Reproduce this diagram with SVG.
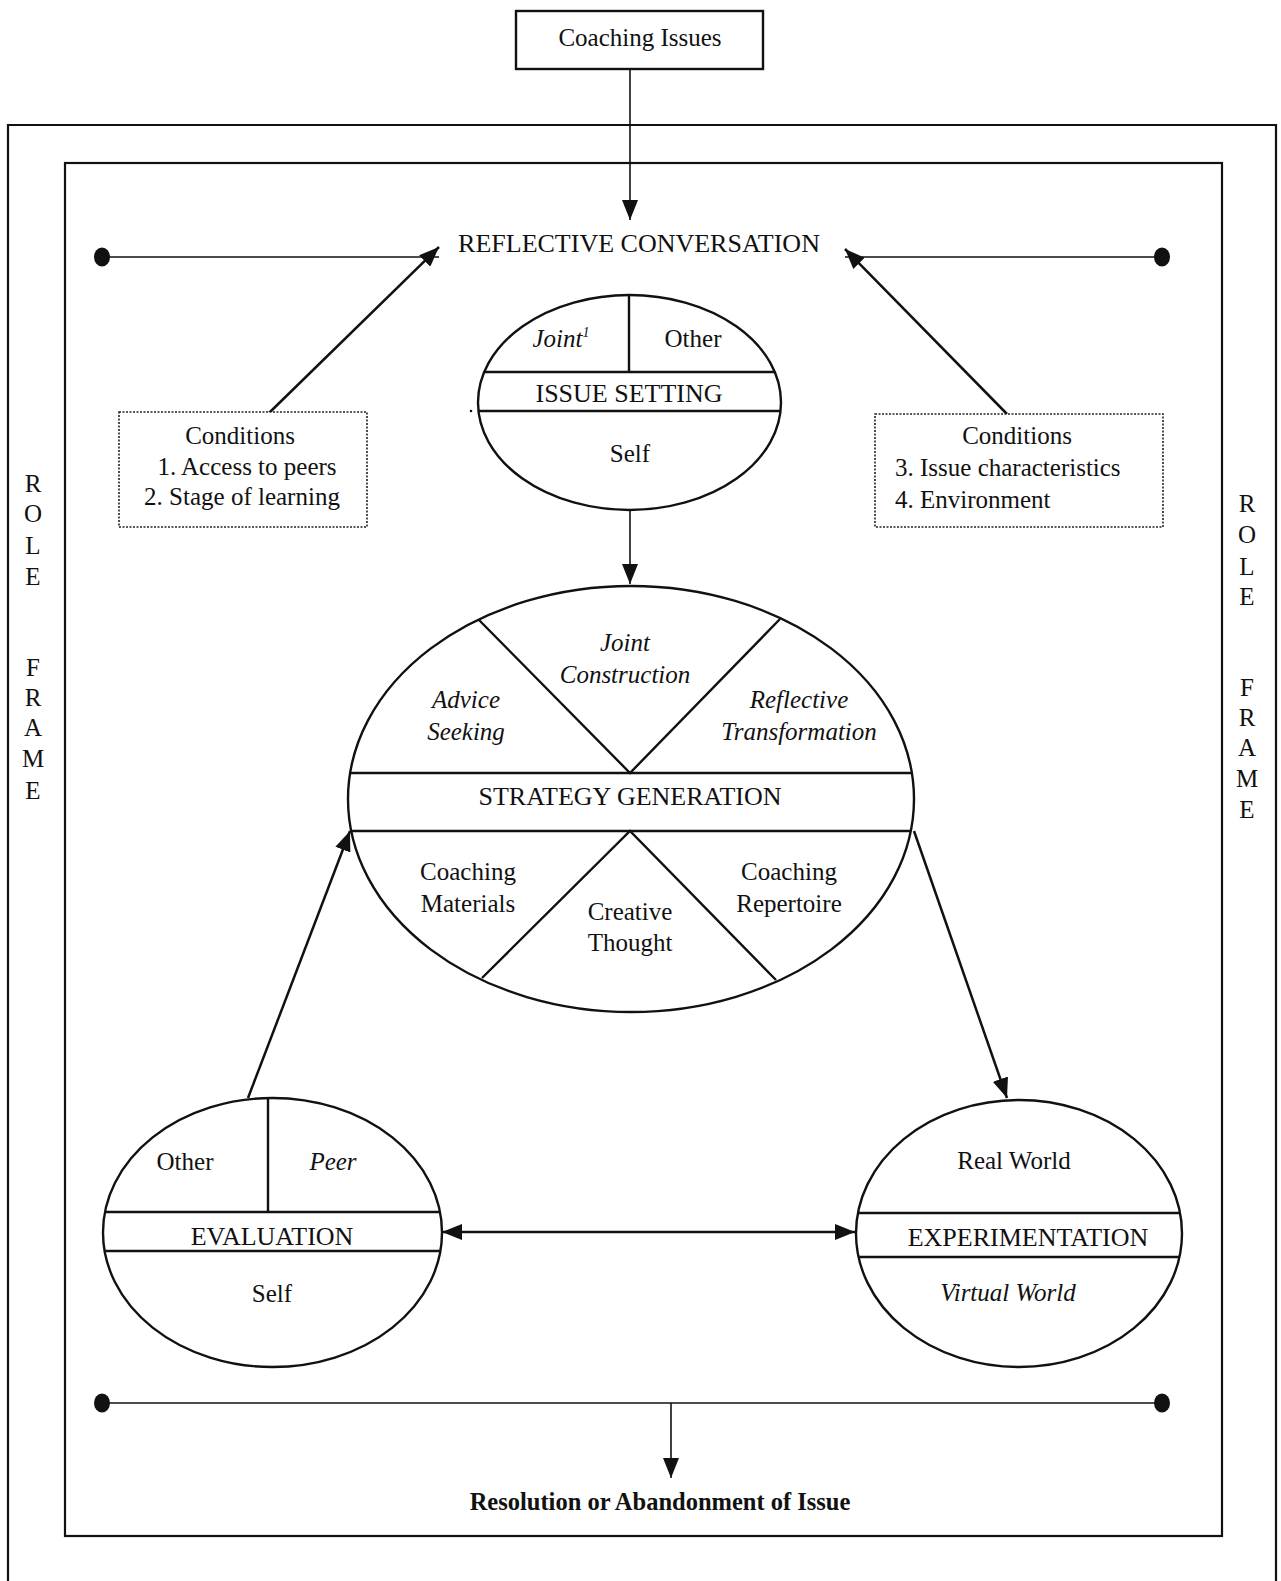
<svg xmlns="http://www.w3.org/2000/svg" width="1281" height="1581" viewBox="0 0 1281 1581">
<style>
  .t { font-family: "Liberation Serif", "Times New Roman", serif; font-size: 25px; fill: #111; }
  .c { text-anchor: middle; }
  .i { font-style: italic; }
  .cap { font-size: 26px; }
  .b { font-weight: bold; font-size: 24.5px; }
  .frame { fill: none; stroke: #111; stroke-width: 2.2; }
  .shape { fill: #fff; stroke: #111; stroke-width: 2.4; }
  .div { stroke: #111; stroke-width: 2.4; fill: none; }
  .cond { fill: #fff; stroke: #222; stroke-width: 1.6; stroke-dasharray: 2 1.5; }
  .thin { stroke: #111; stroke-width: 1.6; fill: none; }
  .arr { stroke: #111; stroke-width: 2.5; fill: none; }
  .dot { fill: #111; }
</style>
<defs>
  <marker id="ah" viewBox="0 0 20 16" refX="20" refY="8" markerWidth="20" markerHeight="16" markerUnits="userSpaceOnUse" orient="auto-start-reverse">
    <path d="M0,0 L20,8 L0,16 z" fill="#111"/>
  </marker>
  <clipPath id="clipIS"><ellipse cx="629.5" cy="402.5" rx="151.5" ry="107.5"/></clipPath>
  <clipPath id="clipSG"><ellipse cx="631" cy="799" rx="283" ry="213"/></clipPath>
  <clipPath id="clipEV"><ellipse cx="272.5" cy="1232.5" rx="169.5" ry="134.5"/></clipPath>
  <clipPath id="clipEX"><ellipse cx="1019" cy="1233.5" rx="163" ry="133.5"/></clipPath>
</defs>
<rect width="1281" height="1581" fill="#fff"/>

<g id="frames">
  <path class="frame" d="M8,1581 V125 H1276 V1581"/>
  <rect class="frame" x="65" y="163" width="1157" height="1373"/>
</g>

<g id="role-frame-left">
  <text class="t c" x="33" y="492">R</text>
  <text class="t c" x="33" y="522">O</text>
  <text class="t c" x="33" y="554">L</text>
  <text class="t c" x="33" y="585">E</text>
  <text class="t c" x="33" y="676">F</text>
  <text class="t c" x="33" y="706">R</text>
  <text class="t c" x="33" y="736">A</text>
  <text class="t c" x="33" y="767">M</text>
  <text class="t c" x="33" y="799">E</text>
</g>
<g id="role-frame-right">
  <text class="t c" x="1247" y="512">R</text>
  <text class="t c" x="1247" y="543">O</text>
  <text class="t c" x="1247" y="575">L</text>
  <text class="t c" x="1247" y="605">E</text>
  <text class="t c" x="1247" y="696">F</text>
  <text class="t c" x="1247" y="726">R</text>
  <text class="t c" x="1247" y="756">A</text>
  <text class="t c" x="1247" y="787">M</text>
  <text class="t c" x="1247" y="818">E</text>
</g>

<g id="connectors">
  <line class="thin" x1="630" y1="70" x2="630" y2="220" marker-end="url(#ah)"/>
  <line class="thin" x1="102" y1="257" x2="439" y2="257"/>
  <line class="thin" x1="845" y1="257" x2="1162" y2="257"/>
  <ellipse class="dot" cx="102" cy="257" rx="8" ry="9.5"/>
  <ellipse class="dot" cx="1162" cy="257" rx="8" ry="9.5"/>
  <line class="arr" x1="269" y1="413" x2="439" y2="247" marker-end="url(#ah)"/>
  <line class="arr" x1="1007" y1="414" x2="845" y2="249" marker-end="url(#ah)"/>
  <line class="thin" x1="630" y1="510" x2="630" y2="584" marker-end="url(#ah)"/>
  <line class="arr" x1="248" y1="1098" x2="350" y2="831" marker-end="url(#ah)"/>
  <line class="arr" x1="914" y1="831" x2="1007" y2="1098" marker-end="url(#ah)"/>
  <line class="arr" x1="442" y1="1232" x2="855" y2="1232" marker-start="url(#ah)" marker-end="url(#ah)"/>
  <line class="thin" x1="102" y1="1403" x2="1162" y2="1403"/>
  <ellipse class="dot" cx="102" cy="1403" rx="8" ry="9.5"/>
  <ellipse class="dot" cx="1162" cy="1403" rx="8" ry="9.5"/>
  <line class="thin" x1="671" y1="1403" x2="671" y2="1478" marker-end="url(#ah)"/>
</g>

<g id="coaching-issues">
  <rect class="shape" x="516" y="11" width="247" height="58"/>
  <text class="t c" x="640" y="46">Coaching Issues</text>
</g>

<g id="reflective-conversation">
  <text class="t c cap" x="639" y="252">REFLECTIVE CONVERSATION</text>
</g>

<g id="conditions-left">
  <rect class="cond" x="119" y="412" width="248" height="115"/>
  <text class="t c" x="240" y="444">Conditions</text>
  <text class="t c" x="247" y="475">1. Access to peers</text>
  <text class="t c" x="242" y="505">2. Stage of learning</text>
</g>

<g id="conditions-right">
  <rect class="cond" x="875" y="414" width="288" height="113"/>
  <text class="t c" x="1017" y="444">Conditions</text>
  <text class="t" x="895" y="476">3. Issue characteristics</text>
  <text class="t" x="895" y="508">4. Environment</text>
</g>

<g id="issue-setting">
  <ellipse class="shape" cx="629.5" cy="402.5" rx="151.5" ry="107.5"/>
  <g clip-path="url(#clipIS)">
    <line class="div" x1="470" y1="372" x2="790" y2="372"/>
    <line class="div" x1="470" y1="411" x2="790" y2="411"/>
    <line class="div" x1="629" y1="290" x2="629" y2="372"/>
  </g>
  <text class="t c i" x="561" y="347">Joint<tspan font-size="14" dy="-10">1</tspan></text>
  <text class="t c" x="693" y="347">Other</text>
  <text class="t c cap" x="629" y="402">ISSUE SETTING</text>
  <text class="t c" x="630" y="462">Self</text>
  <circle cx="471" cy="411" r="1.3" fill="#111"/>
</g>

<g id="strategy-generation">
  <ellipse class="shape" cx="631" cy="799" rx="283" ry="213"/>
  <g clip-path="url(#clipSG)">
    <line class="div" x1="340" y1="773" x2="920" y2="773"/>
    <line class="div" x1="340" y1="831" x2="920" y2="831"/>
    <polyline class="div" points="479,620 630,773 780,619"/>
    <polyline class="div" points="482,978 630,831 776,980"/>
  </g>
  <text class="t c i" x="625" y="651">Joint</text>
  <text class="t c i" x="625" y="683">Construction</text>
  <text class="t c i" x="466" y="708">Advice</text>
  <text class="t c i" x="466" y="740">Seeking</text>
  <text class="t c i" x="799" y="708">Reflective</text>
  <text class="t c i" x="799" y="740">Transformation</text>
  <text class="t c cap" x="630" y="805">STRATEGY GENERATION</text>
  <text class="t c" x="468" y="880">Coaching</text>
  <text class="t c" x="468" y="912">Materials</text>
  <text class="t c" x="630" y="920">Creative</text>
  <text class="t c" x="630" y="951">Thought</text>
  <text class="t c" x="789" y="880">Coaching</text>
  <text class="t c" x="789" y="912">Repertoire</text>
</g>

<g id="evaluation">
  <ellipse class="shape" cx="272.5" cy="1232.5" rx="169.5" ry="134.5"/>
  <g clip-path="url(#clipEV)">
    <line class="div" x1="100" y1="1212" x2="445" y2="1212"/>
    <line class="div" x1="100" y1="1251" x2="445" y2="1251"/>
    <line class="div" x1="268" y1="1090" x2="268" y2="1212"/>
  </g>
  <text class="t c" x="185" y="1170">Other</text>
  <text class="t c i" x="333" y="1170">Peer</text>
  <text class="t c cap" x="272" y="1245">EVALUATION</text>
  <text class="t c" x="272" y="1302">Self</text>
</g>

<g id="experimentation">
  <ellipse class="shape" cx="1019" cy="1233.5" rx="163" ry="133.5"/>
  <g clip-path="url(#clipEX)">
    <line class="div" x1="850" y1="1213" x2="1190" y2="1213"/>
    <line class="div" x1="850" y1="1257" x2="1190" y2="1257"/>
  </g>
  <text class="t c" x="1014" y="1169">Real World</text>
  <text class="t c cap" x="1028" y="1246">EXPERIMENTATION</text>
  <text class="t c i" x="1008" y="1301">Virtual World</text>
</g>

<g id="resolution">
  <text class="t c b" x="660" y="1510">Resolution or Abandonment of Issue</text>
</g>
</svg>
